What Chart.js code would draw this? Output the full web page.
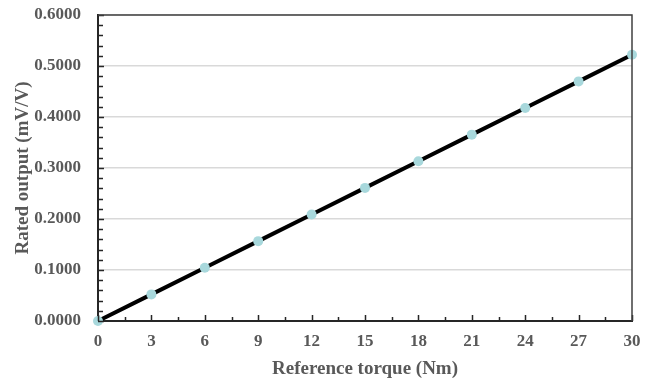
<!DOCTYPE html>
<html>
<head>
<meta charset="utf-8">
<script src="https://cdn.jsdelivr.net/npm/chart.js@4/dist/chart.umd.min.js"></script>
<style>
  html, body { margin: 0; padding: 0; background: #fff; }
  #wrap { width: 658px; height: 381px; }
</style>
</head>
<body>
<div id="wrap"><canvas id="torqueChart" width="658" height="381"></canvas></div>
<script>
const torqueValues = [0, 3, 6, 9, 12, 15, 18, 21, 24, 27, 30];
const ratedOutput = [0.0000, 0.0522, 0.1044, 0.1566, 0.2088, 0.2610, 0.3132, 0.3654, 0.4176, 0.4698, 0.5220];
const xTicks = [0, 3, 6, 9, 12, 15, 18, 21, 24, 27, 30];
const yTicks = [0, 0.1, 0.2, 0.3, 0.4, 0.5, 0.6];

const textColor = '#595959';
const fontFamily = "'Liberation Serif', 'Times New Roman', serif";

// inward major/minor ticks and the closing box lines
const frameTicks = {
    id: 'frameTicks',
    afterDraw(chart) {
        const { ctx, chartArea: area, scales } = chart;
        const x = scales.x, y = scales.y;
        ctx.save();
        ctx.strokeStyle = '#262626';
        ctx.lineWidth = 1.5;
        ctx.beginPath();
        for (let v = 0; v <= 30.001; v += 1.5) {
            const px = Math.round(x.getPixelForValue(v)) + 0.5;
            const len = Math.abs(v % 3) < 0.01 ? 6 : 4;
            ctx.moveTo(px, area.bottom);
            ctx.lineTo(px, area.bottom - len);
        }
        for (let v = 0; v <= 0.6001; v += 0.02) {
            const py = Math.round(y.getPixelForValue(v)) + 0.5;
            const major = Math.abs(Math.round(v * 100) % 10) === 0;
            ctx.moveTo(area.left, py);
            ctx.lineTo(area.left + (major ? 6 : 5), py);
        }
        ctx.stroke();
        ctx.strokeStyle = '#404040';
        ctx.lineWidth = 1.5;
        ctx.beginPath();
        ctx.moveTo(area.left, area.top);
        ctx.lineTo(area.right, area.top);
        ctx.lineTo(area.right, area.bottom);
        ctx.stroke();
        ctx.restore();
    }
};

new Chart(document.getElementById('torqueChart'), {
    type: 'scatter',
    data: {
        datasets: [{
            data: torqueValues.map((t, i) => ({ x: t, y: ratedOutput[i] })),
            showLine: true,
            borderColor: '#000000',
            borderWidth: 4,
            pointRadius: 5,
            pointBackgroundColor: '#a8d8dc',
            pointBorderWidth: 0,
            clip: false
        }]
    },
    options: {
        responsive: false,
        animation: false,
        layout: { autoPadding: false, padding: { top: 15, right: 26, left: 12, bottom: 1 } },
        plugins: { legend: { display: false }, tooltip: { enabled: false } },
        scales: {
            x: {
                type: 'linear',
                min: 0,
                max: 30,
                afterBuildTicks(scale) { scale.ticks = xTicks.map(v => ({ value: v })); },
                afterFit(scale) {
                    scale.height = 59;
                    scale.paddingLeft = 0;
                    scale.paddingRight = 0;
                },
                ticks: {
                    color: textColor,
                    padding: 10,
                    font: { family: fontFamily, size: 17, weight: 'bold' }
                },
                grid: { drawOnChartArea: false, drawTicks: false },
                border: { color: '#262626', width: 2 },
                title: {
                    display: true,
                    text: 'Reference torque (Nm)',
                    color: textColor,
                    padding: { top: 0, bottom: 0 },
                    font: { family: fontFamily, size: 19, weight: 'bold' }
                }
            },
            y: {
                min: 0,
                max: 0.6,
                afterBuildTicks(scale) { scale.ticks = yTicks.map(v => ({ value: v })); },
                afterFit(scale) {
                    scale.width = 86;
                    scale.paddingTop = 0;
                    scale.paddingBottom = 0;
                },
                ticks: {
                    color: textColor,
                    padding: 17,
                    font: { family: fontFamily, size: 17, weight: 'bold' },
                    callback: v => Number(v).toFixed(4)
                },
                grid: { color: '#d9d9d9', lineWidth: 1.5, drawTicks: false },
                border: { color: '#262626', width: 2 },
                title: {
                    display: true,
                    text: 'Rated output (mV/V)',
                    color: textColor,
                    padding: { top: 0, bottom: 0 },
                    font: { family: fontFamily, size: 19, weight: 'bold' }
                }
            }
        }
    },
    plugins: [frameTicks]
});
</script>
</body>
</html>
